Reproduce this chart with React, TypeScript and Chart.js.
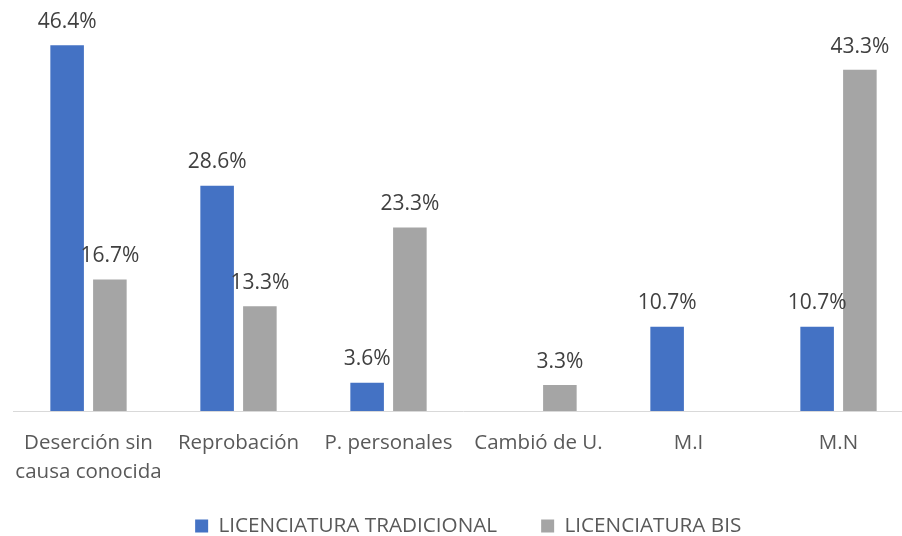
import React, { useEffect, useRef } from 'react';
import { Chart, registerables } from 'chart.js';

Chart.register(...registerables);

const categories: (string | string[])[] = [
  ['Deserción sin', 'causa conocida'],
  'Reprobación',
  'P. personales',
  'Cambió de U.',
  'M.I',
  'M.N',
];
const seriesNames = ['LICENCIATURA TRADICIONAL', 'LICENCIATURA BIS'];
const tradicional: (number | null)[] = [46.4, 28.6, 3.6, null, 10.7, 10.7];
const bis: (number | null)[] = [16.7, 13.3, 23.3, 3.3, null, 43.3];
const yMax = 50;

const FONT = "'Open Sans', 'DejaVu Sans', sans-serif";

const dataLabelPlugin = {
  id: 'dataLabels',
  afterDatasetsDraw(chart: any) {
    const ctx = chart.ctx;
    ctx.save();
    ctx.font = `21px ${FONT}`;
    ctx.fillStyle = '#404040';
    ctx.textAlign = 'center';
    ctx.textBaseline = 'alphabetic';
    chart.data.datasets.forEach((ds: any, i: number) => {
      const meta = chart.getDatasetMeta(i);
      meta.data.forEach((el: any, j: number) => {
        const v = ds.data[j];
        if (v === null || v === undefined) return;
        ctx.fillText(v.toFixed(1) + '%', el.x, el.y - 17.2);
      });
    });
    ctx.restore();
  },
};

const legendShiftPlugin = {
  id: 'legendShift',
  afterLayout(chart: any) {
    const lg = chart.legend;
    if (!lg) return;
    lg.left += 4.7;
    lg.right += 4.7;
    lg.top -= 15;
  },
};

export default function App() {
  const ref = useRef<HTMLCanvasElement | null>(null);
  useEffect(() => {
    if (!ref.current) return;
    const chart = new Chart(ref.current, {
      type: 'bar',
      data: {
        labels: categories as any,
        datasets: [
          {
            label: seriesNames[0],
            data: tradicional,
            backgroundColor: '#4472C4',
            borderWidth: 0,
            categoryPercentage: 0.57,
            barPercentage: 0.785,
          },
          {
            label: seriesNames[1],
            data: bis,
            backgroundColor: '#A5A5A5',
            borderWidth: 0,
            categoryPercentage: 0.57,
            barPercentage: 0.785,
          },
        ],
      },
      options: {
        responsive: false,
        animation: false,
        layout: { padding: { left: 13.5, right: 16.5, top: 17, bottom: 0 } },
        scales: {
          x: {
            offset: true,
            grid: { display: false, drawTicks: true, tickLength: 17 },
            border: { display: true, color: '#D9D9D9', width: 1 },
            ticks: {
              autoSkip: false,
              maxRotation: 0,
              padding: 0,
              color: '#595959',
              font: { family: FONT, size: 20.5, lineHeight: 1.43 },
            },
            afterFit: (scale: any) => {
              scale.height = 75.6;
            },
          },
          y: {
            display: false,
            min: 0,
            max: yMax,
          },
        },
        plugins: {
          legend: {
            position: 'bottom',
            maxHeight: 49.4,
            labels: {
              boxWidth: 13,
              boxHeight: 13,
              padding: 44,
              color: '#595959',
              font: { family: FONT, size: 20.7 },
            },
          },
          tooltip: { enabled: false },
        },
      } as any,
      plugins: [dataLabelPlugin, legendShiftPlugin],
    });
    return () => chart.destroy();
  }, []);

  return (
    <div
      style={{
        position: 'absolute',
        left: 0,
        top: 0,
        width: 902,
        height: 536,
        overflow: 'hidden',
        background: '#ffffff',
      }}
    >
      <canvas ref={ref} width={930} height={536} style={{ width: 930, height: 536, display: 'block' }} />
    </div>
  );
}
